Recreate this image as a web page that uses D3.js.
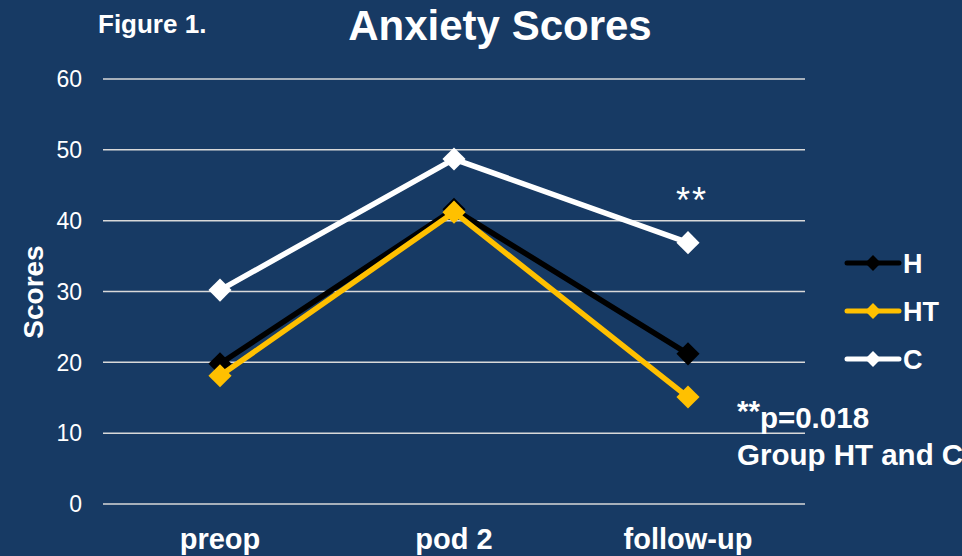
<!DOCTYPE html>
<html>
<head>
<meta charset="utf-8">
<script src="https://cdn.jsdelivr.net/npm/d3@7"></script>
<style>
  body { margin: 0; background: #173a64; }
  text { font-family: "Liberation Sans", Arial, sans-serif; fill: #fff; }
</style>
</head>
<body>
<div id="chart"></div>
<script>
var width = 962, height = 556
var margin = {top: 79, right: 157, bottom: 52, left: 103}

var categories = ["preop", "pod 2", "follow-up"]
var seriesNames = ["H", "HT", "C"]
var seriesColors = ["#000000", "#ffc000", "#ffffff"]
var H = [19.8, 41.6, 21.2]
var HT = [18.1, 41.2, 15.1]
var C = [30.2, 48.7, 36.9]
var yTicks = [0, 10, 20, 30, 40, 50, 60]

var series = [
  {name: seriesNames[0], color: seriesColors[0], values: H},
  {name: seriesNames[1], color: seriesColors[1], values: HT},
  {name: seriesNames[2], color: seriesColors[2], values: C}
]

var svg = d3.select("#chart").append("svg")
  .attr("width", width)
  .attr("height", height)

svg.append("rect").attr("width", width).attr("height", height).attr("fill", "#173a64")

var x = d3.scalePoint()
  .domain(categories)
  .range([margin.left, width - margin.right])
  .padding(0.5)

var y = d3.scaleLinear()
  .domain([0, 60])
  .range([height - margin.bottom, margin.top])

// gridlines
svg.append("g")
  .selectAll("line")
  .data(yTicks)
  .enter().append("line")
  .attr("x1", margin.left)
  .attr("x2", width - margin.right)
  .attr("y1", d => y(d))
  .attr("y2", d => y(d))
  .attr("stroke", "#d9d9d9")
  .attr("stroke-width", 1.5)

// y tick labels
svg.append("g")
  .selectAll("text")
  .data(yTicks)
  .enter().append("text")
  .attr("x", 82)
  .attr("y", d => y(d))
  .attr("dy", "0.36em")
  .attr("text-anchor", "end")
  .attr("font-size", 23)
  .text(d => d)

// x labels
svg.append("g")
  .selectAll("text")
  .data(categories)
  .enter().append("text")
  .attr("x", d => x(d))
  .attr("y", 549)
  .attr("text-anchor", "middle")
  .attr("font-size", 29)
  .attr("font-weight", "bold")
  .text(d => d)

// y axis title
svg.append("text")
  .attr("transform", "translate(43,292) rotate(-90)")
  .attr("text-anchor", "middle")
  .attr("font-size", 28)
  .attr("font-weight", "bold")
  .text("Scores")

// titles
svg.append("text")
  .attr("x", 500).attr("y", 40)
  .attr("text-anchor", "middle")
  .attr("font-size", 42)
  .attr("font-weight", "bold")
  .text("Anxiety Scores")

svg.append("text")
  .attr("x", 98).attr("y", 33)
  .attr("font-size", 26)
  .attr("font-weight", "bold")
  .text("Figure 1.")

var line = d3.line()
  .x((d, i) => x(categories[i]))
  .y(d => y(d))

var diamond = d3.symbol().type(d3.symbolDiamond2).size(340)

var g = svg.append("g")
series.forEach(function(s) {
  g.append("path")
    .attr("d", line(s.values))
    .attr("fill", "none")
    .attr("stroke", s.color)
    .attr("stroke-width", 5.5)
    .attr("stroke-linejoin", "round")
  g.selectAll(null)
    .data(s.values)
    .enter().append("path")
    .attr("d", diamond)
    .attr("transform", (d, i) => "translate(" + x(categories[i]) + "," + y(d) + ")")
    .attr("fill", s.color)
})

// legend
var legend = svg.append("g")
series.forEach(function(s, i) {
  var ly = 263 + i * 48
  legend.append("line")
    .attr("x1", 847).attr("x2", 899)
    .attr("y1", ly).attr("y2", ly)
    .attr("stroke", s.color)
    .attr("stroke-width", 5)
    .attr("stroke-linecap", "round")
  legend.append("path")
    .attr("d", d3.symbol().type(d3.symbolDiamond2).size(160))
    .attr("transform", "translate(873," + ly + ")")
    .attr("fill", s.color)
  legend.append("text")
    .attr("x", 903).attr("y", ly)
    .attr("dy", "0.36em")
    .attr("font-size", 27)
    .attr("font-weight", "bold")
    .text(s.name)
})

// annotations
svg.append("text")
  .attr("x", x("follow-up") + 4).attr("y", 213)
  .attr("text-anchor", "middle")
  .attr("font-size", 36)
  .attr("letter-spacing", 2)
  .text("**")

var note = svg.append("text")
  .attr("x", 737).attr("y", 428)
  .attr("font-size", 29.5)
  .attr("font-weight", "bold")
note.append("tspan").attr("dy", -7).text("**")
note.append("tspan").attr("dy", 7).text("p=0.018")

svg.append("text")
  .attr("x", 737).attr("y", 465)
  .attr("font-size", 29.5)
  .attr("font-weight", "bold")
  .text("Group HT and C")
</script>
</body>
</html>
